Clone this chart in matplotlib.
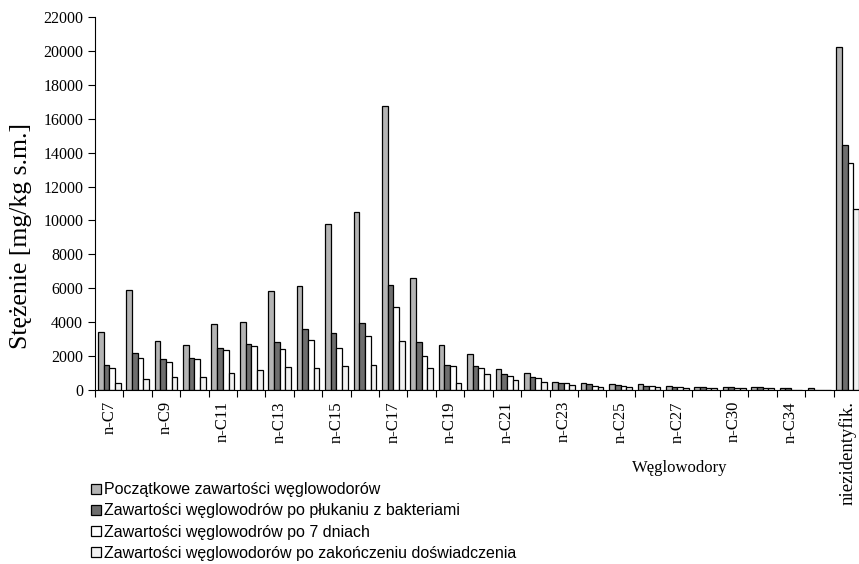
import matplotlib.pyplot as plt
import numpy as np

# categories (every second one is labelled on the axis)
categories = ['n-C7', 'n-C8', 'n-C9', 'n-C10', 'n-C11', 'n-C12', 'n-C13', 'n-C14',
              'n-C15', 'n-C16', 'n-C17', 'n-C18', 'n-C19', 'n-C20', 'n-C21', 'n-C22',
              'n-C23', 'n-C24', 'n-C25', 'n-C26', 'n-C27', 'n-C28', 'n-C30', 'n-C32',
              'n-C34', 'n-C36', 'niezidentyfik.']

initial = [3450, 5900, 2890, 2650, 3890, 3990, 5820, 6130, 9770, 10480, 16750, 6630,
           2650, 2110, 1260, 1020, 490, 390, 330, 330, 260, 200, 200, 200, 110, 100, 20250]
after_wash = [1500, 2180, 1810, 1870, 2480, 2730, 2810, 3580, 3340, 3970, 6190, 2810,
              1470, 1420, 940, 790, 390, 330, 300, 260, 160, 160, 160, 160, 90, 0, 14450]
after_7days = [1280, 1870, 1630, 1810, 2360, 2580, 2420, 2950, 2500, 3190, 4920, 2030,
               1420, 1320, 850, 690, 390, 260, 260, 260, 160, 120, 120, 120, 0, 0, 13370]
after_end = [390, 650, 790, 790, 1000, 1160, 1330, 1320, 1420, 1470, 2890, 1320,
             390, 940, 570, 490, 300, 160, 160, 160, 140, 100, 100, 100, 0, 0, 10660]

series_labels = ['Początkowe zawartości węglowodorów',
                 'Zawartości węglowodrów po płukaniu z bakteriami',
                 'Zawartości węglowodrów po 7 dniach',
                 'Zawartości węglowodorów po zakończeniu doświadczenia']
colors = ['#b4b4b4', '#6e6e6e', '#ffffff', '#f2f2f2']

serif = 'Liberation Serif'
sans = 'Liberation Sans'

fig = plt.figure(figsize=(8.59, 5.64), dpi=100)
ax = fig.add_axes([95 / 859, 1 - 390 / 564, (862 - 95) / 859, (390 - 17) / 564])

x = np.arange(len(categories))
w = 0.2
for k, (vals, col, lab) in enumerate(zip([initial, after_wash, after_7days, after_end],
                                         colors, series_labels)):
    ax.bar(x + (k - 1.5) * w, vals, width=w, color=col, edgecolor='black',
           linewidth=0.9, label=lab)

ax.set_xlim(-0.5, len(categories) - 0.5)
ax.set_ylim(0, 22000)
ax.set_yticks(np.arange(0, 22001, 2000))
for t in ax.get_yticklabels():
    t.set_fontfamily(serif)
    t.set_fontsize(11.5)

# tick marks between groups, labels on every second group
ax.set_xticks(np.arange(-0.5, len(categories), 1))
ax.set_xticklabels([])
ax.set_xticks(x[::2], minor=True)
ax.set_xticklabels(categories[::2], minor=True, rotation=90, fontfamily=serif,
                   fontsize=12, va='top')
ax.get_xticklabels(minor=True)[-1].set_fontsize(13.5)
ax.tick_params(axis='x', which='minor', length=0, pad=8)
ax.tick_params(axis='x', which='major', length=5, direction='out')
ax.tick_params(axis='y', length=5, direction='out')

for s in ['top', 'right']:
    ax.spines[s].set_visible(False)

fig.text(21 / 859, 1 - 236 / 564, 'Stężenie [mg/kg s.m.]', fontfamily=serif,
         fontsize=18.5, rotation=90, ha='center', va='center')

fig.text(680 / 859, 1 - 468 / 564, 'Węglowodory', fontfamily=serif, fontsize=12,
         ha='center', va='center')

fig.legend(loc='upper left', bbox_to_anchor=(85 / 859, 1 - 476 / 564), frameon=False,
           prop={'family': sans, 'size': 11.5}, handlelength=0.6, handleheight=0.6,
           handletextpad=0.2, labelspacing=0.38, borderaxespad=0)

fig.savefig('out.png', dpi=100)
